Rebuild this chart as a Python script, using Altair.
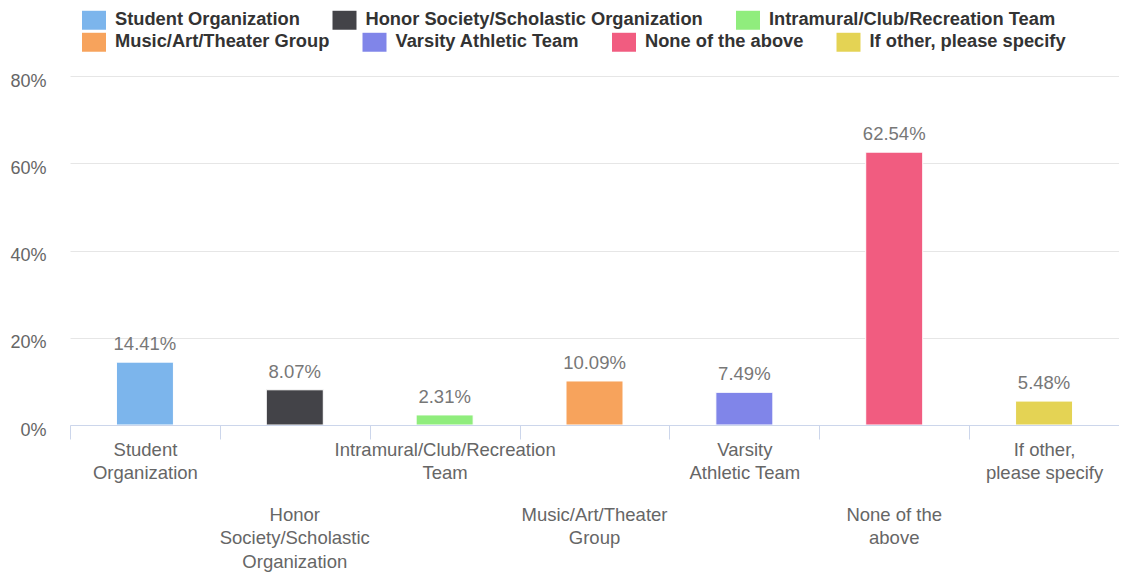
import altair as alt
import pandas as pd

categories = [
    "Student Organization",
    "Honor Society/Scholastic Organization",
    "Intramural/Club/Recreation Team",
    "Music/Art/Theater Group",
    "Varsity Athletic Team",
    "None of the above",
    "If other, please specify",
]
values = [0.1441, 0.0807, 0.0231, 0.1009, 0.0749, 0.6254, 0.0548]
colors = ["#7cb5ec", "#434348", "#90ed7d", "#f7a35c", "#8085e9", "#f15c80", "#e4d354"]
axis_lines = [
    ["Student", "Organization"],
    ["Honor", "Society/Scholastic", "Organization"],
    ["Intramural/Club/Recreation", "Team"],
    ["Music/Art/Theater", "Group"],
    ["Varsity", "Athletic Team"],
    ["None of the", "above"],
    ["If other,", "please specify"],
]

df = pd.DataFrame({"cat": categories, "value": values})
row1 = categories[:3]
row2 = categories[3:]

def arr(lines):
    return "[" + ",".join("'" + l.replace("'", "\\'") + "'" for l in lines) + "]"

def label_expr(parity):
    expr = "''"
    for i, (c, lines) in reversed(list(enumerate(zip(categories, axis_lines)))):
        if i % 2 == parity:
            expr = f"datum.label == '{c}' ? {arr(lines)} : ({expr})"
    return expr

FONT = "Liberation Sans, Arial, sans-serif"
x_scale = alt.Scale(domain=categories, paddingInner=0, paddingOuter=0)

axis_common = dict(
    title=None,
    orient="bottom",
    labelAngle=0,
    labelOverlap=False,
    labelBound=False,
    labelLimit=0,
    labelFont=FONT,
    labelFontSize=18.5,
    labelColor="#666666",
    labelLineHeight=23.5,
    labelBaseline="top",
    grid=False,
)
axis_top_row = alt.Axis(
    labelExpr=label_expr(0),
    labelPadding=1,
    domainColor="#ccd6eb",
    tickColor="#ccd6eb",
    tickSize=14,
    tickBand="extent",
    zindex=1,
    **axis_common,
)
axis_low_row = alt.Axis(
    labelExpr=label_expr(1),
    labelPadding=80,
    domain=False,
    ticks=False,
    **axis_common,
)

def x_enc(axis):
    return alt.X("cat:N", sort=None, scale=x_scale, axis=axis)

y_enc = alt.Y(
    "value:Q",
    scale=alt.Scale(domain=[0, 0.8], nice=False),
    axis=alt.Axis(
        title=None,
        values=[0, 0.2, 0.4, 0.6, 0.8],
        format=".0%",
        labelFont=FONT,
        labelFontSize=18,
        labelColor="#666666",
        labelPadding=24,
        labelOffset=5,
        ticks=False,
        domain=False,
        grid=True,
        gridColor="#e6e6e6",
        gridWidth=1,
    ),
)

SYM = "M-1,-0.79H1V0.79H-1Z"

def legend_for(ly):
    return alt.Legend(
        title=None,
        orient="none",
        direction="horizontal",
        legendX=12,
        legendY=ly,
        symbolType=SYM,
        symbolSize=576,
        symbolStrokeWidth=0,
        symbolOpacity=1,
        labelFont=FONT,
        labelFontSize=18.3,
        labelFontWeight="bold",
        labelColor="#333333",
        labelOffset=9,
        labelLimit=0,
        columnPadding=32.5,
    )

bars1 = alt.Chart(df).transform_filter(
    alt.FieldOneOfPredicate(field="cat", oneOf=row1)
).mark_bar(size=57, stroke="#ffffff", strokeWidth=1).encode(
    x=x_enc(axis_top_row),
    y=y_enc,
    color=alt.Color("cat:N", scale=alt.Scale(domain=row1, range=colors[:3]), legend=legend_for(-68)),
)
bars2 = alt.Chart(df).transform_filter(
    alt.FieldOneOfPredicate(field="cat", oneOf=row2)
).mark_bar(size=57, stroke="#ffffff", strokeWidth=1).encode(
    x=x_enc(axis_low_row),
    y=y_enc,
    fill=alt.Fill("cat:N", scale=alt.Scale(domain=row2, range=colors[3:]), legend=legend_for(-46)),
)
labels = alt.Chart(df).mark_text(
    font=FONT, fontSize=18.5, color="#777777", baseline="alphabetic", dy=-12
).encode(
    x=x_enc(None),
    y=y_enc,
    text=alt.Text("value:Q", format=".2%"),
)

chart = alt.layer(bars1, bars2, labels).resolve_scale(
    color="independent", fill="independent"
).resolve_axis(x="independent").properties(
    width=1049,
    height=349,
    autosize=alt.AutoSizeParams(type="none"),
    padding={"left": 62, "top": 68, "right": 0, "bottom": 148},
).configure_view(stroke=None)

chart.save("out.html", embed_options={"renderer": "svg", "actions": False})
